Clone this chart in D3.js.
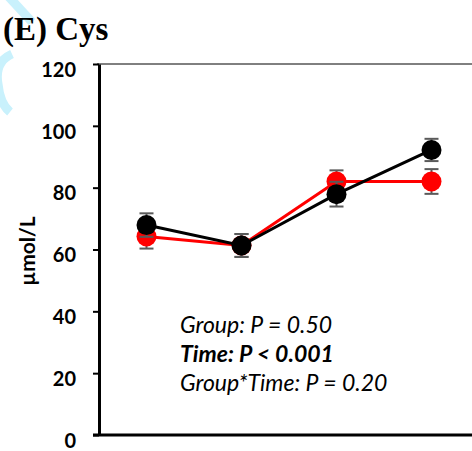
<!DOCTYPE html>
<html>
<head>
<meta charset="utf-8">
<script src="https://cdn.jsdelivr.net/npm/d3@7"></script>
<style>
  body { margin: 0; background: #fff; }
  svg { display: block; }
</style>
</head>
<body>
<svg id="chart" width="472" height="451"></svg>
<script>
const times = ["T1", "T2", "T3", "T4"];
const redMean = [64.2, 61.3, 82.0, 82.0];
const redErr = [3.9, 3.7, 3.6, 4.0];
const blackMean = [67.9, 61.3, 77.9, 92.2];
const blackErr = [3.8, 3.7, 4.0, 3.6];
const yTicks = [0, 20, 40, 60, 80, 100, 120];
const statLines = [
  { text: "Group: P = 0.50", bold: false },
  { text: "Time: P < 0.001", bold: true },
  { text: "Group*Time: P = 0.20", bold: false }
];

const svg = d3.select("#chart");
const plotLeft = 99, plotTop = 64, plotBottom = 435;
const fontFamily = "Lato, 'Open Sans', sans-serif";

// faint watermark shapes on the left edge
svg.append("path")
  .attr("d", "M8,-4 L32,22")
  .attr("stroke", "#c9f1fc")
  .attr("stroke-width", 9)
  .attr("fill", "none");
svg.append("path")
  .attr("d", "M12,54 Q-6,62 -2,84 Q0,104 10,112")
  .attr("stroke", "#c9f1fc")
  .attr("stroke-width", 9)
  .attr("fill", "none");

const x = d3.scalePoint().domain(times).range([plotLeft, 479]).padding(0.5);
const y = d3.scaleLinear().domain([0, 120]).range([plotBottom, plotTop]);

// title
svg.append("text")
  .attr("x", 3)
  .attr("y", 40)
  .attr("font-family", "'Liberation Serif', 'Times New Roman', serif")
  .attr("font-weight", "bold")
  .attr("font-size", "33px")
  .text("(E) Cys");

// top border line
svg.append("line")
  .attr("x1", plotLeft - 2).attr("x2", 472)
  .attr("y1", plotTop).attr("y2", plotTop)
  .attr("stroke", "#000")
  .attr("stroke-width", 1);

// y axis
const yAxis = svg.append("g")
  .attr("transform", `translate(${plotLeft},0)`)
  .call(d3.axisLeft(y).tickValues(yTicks).tickSize(6).tickPadding(17).tickSizeOuter(0));
yAxis.select(".domain").attr("stroke-width", 3);
yAxis.selectAll(".tick line").attr("stroke-width", 2);
yAxis.selectAll(".tick text")
  .attr("font-family", fontFamily)
  .attr("font-weight", "bold")
  .attr("font-size", "20px")
  .attr("y", 5)
  .attr("dy", "0.36em")
  .attr("fill", "#000");

// x axis line
svg.append("line")
  .attr("x1", plotLeft - 6).attr("x2", 472)
  .attr("y1", plotBottom).attr("y2", plotBottom)
  .attr("stroke", "#000")
  .attr("stroke-width", 3);

// y axis title
svg.append("text")
  .attr("transform", `translate(35,251) rotate(-90)`)
  .attr("text-anchor", "middle")
  .attr("font-family", fontFamily)
  .attr("font-weight", "bold")
  .attr("font-size", "21px")
  .text("µmol/L");

const line = d3.line().x((d, i) => x(times[i])).y(d => y(d));

function drawSeries(means, errs, color) {
  const g = svg.append("g");
  // error bars
  means.forEach((m, i) => {
    const cx = x(times[i]);
    const eg = g.append("g").attr("stroke", "#5a5a5a").attr("stroke-width", 2);
    eg.append("line").attr("x1", cx).attr("x2", cx).attr("y1", y(m - errs[i])).attr("y2", y(m + errs[i]));
    [m - errs[i], m + errs[i]].forEach(v => {
      eg.append("line").attr("x1", cx - 7).attr("x2", cx + 7).attr("y1", y(v)).attr("y2", y(v));
    });
  });
  g.append("path")
    .datum(means)
    .attr("d", line)
    .attr("fill", "none")
    .attr("stroke", color)
    .attr("stroke-width", 3);
  g.selectAll("circle")
    .data(means)
    .join("circle")
    .attr("cx", (d, i) => x(times[i]))
    .attr("cy", d => y(d))
    .attr("r", 10)
    .attr("fill", color);
}

drawSeries(redMean, redErr, "#ff0000");
drawSeries(blackMean, blackErr, "#000000");

// statistics annotation
svg.append("g")
  .selectAll("text")
  .data(statLines)
  .join("text")
  .attr("x", 180)
  .attr("y", (d, i) => 333 + i * 29)
  .attr("font-family", fontFamily)
  .attr("font-style", "italic")
  .attr("font-weight", d => d.bold ? "bold" : "normal")
  .attr("font-size", "23px")
  .text(d => d.text);
</script>
</body>
</html>
